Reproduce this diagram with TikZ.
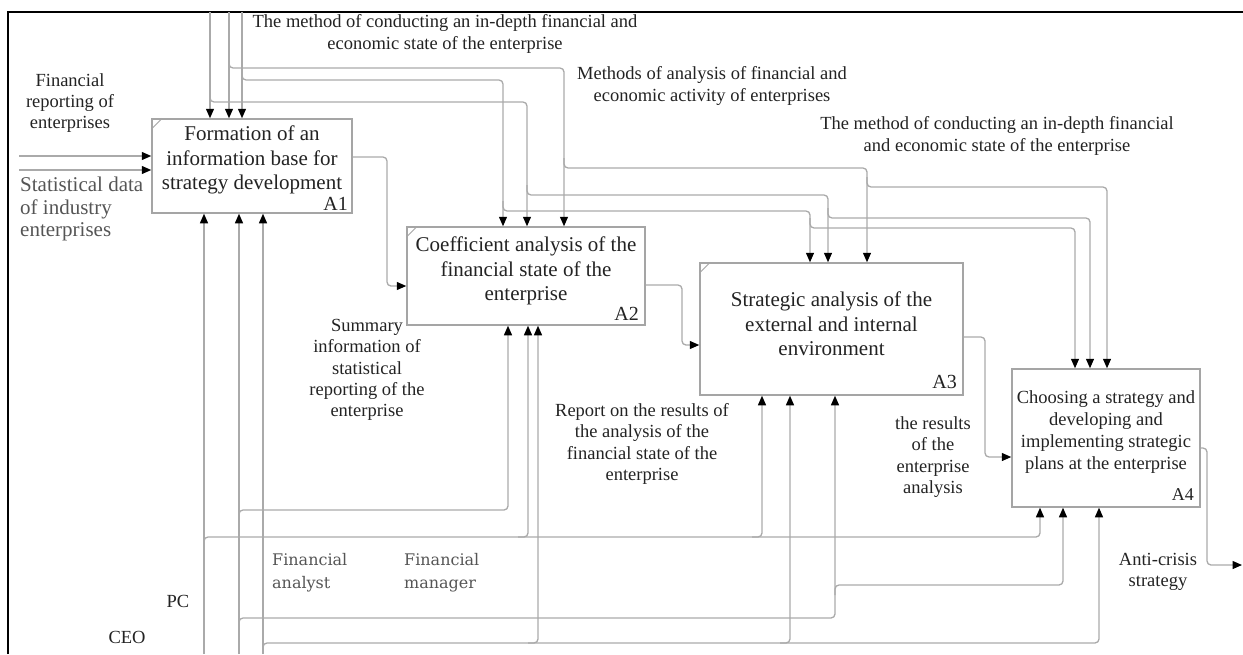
\documentclass[tikz,border=0pt]{standalone}
\usepackage{fontspec}
\setmainfont{Liberation Serif}
\newfontfamily\slabfont{DejaVu Serif}
\usetikzlibrary{arrows.meta}
\definecolor{lineg}{RGB}{170,170,170}
\definecolor{boxg}{RGB}{165,165,165}
\definecolor{txt}{RGB}{35,35,35}
\definecolor{txtl}{RGB}{85,85,85}
\begin{document}
\begin{tikzpicture}[x=1pt,y=-1pt,
  conn/.style={draw=lineg,line width=1.3pt,rounded corners=4pt},
  arr/.style={-{Triangle[length=9.5pt,width=8pt,color=black]}},
  procbox/.style={draw=boxg,line width=1.5pt,fill=white,inner sep=0pt},
  boxtext/.style={align=center,font=\fontsize{21}{24.5}\selectfont,text=txt,inner sep=0pt},
  boxtextsm/.style={align=center,font=\fontsize{18.5}{22}\selectfont,text=txt,inner sep=0pt},
  lab/.style={align=center,font=\fontsize{18.5}{21.3}\selectfont,text=txt,inner sep=0pt},
  num/.style={font=\fontsize{20}{22}\selectfont,text=txt,inner sep=0pt,anchor=base east},
  corner/.style={draw=boxg,line width=1pt},
]
\useasboundingbox (0,0) rectangle (1243,654);
% frame
\draw[line width=1.4pt] (8,654) -- (8,12) -- (1243,12);

% boxes
\node[procbox,minimum width=200pt,minimum height=94pt] (A1) at (252,166) {};
\node[procbox,minimum width=238pt,minimum height=98pt] (A2) at (526,276) {};
\node[procbox,minimum width=263pt,minimum height=132pt] (A3) at (831.5,329) {};
\node[procbox,minimum width=188pt,minimum height=138pt] (A4) at (1106,438) {};
\draw[corner] ([yshift=-11pt]A1.north west) -- ([xshift=11pt]A1.north west);
\draw[corner] ([yshift=-11pt]A2.north west) -- ([xshift=11pt]A2.north west);
\draw[corner] ([yshift=-11pt]A3.north west) -- ([xshift=11pt]A3.north west);

\node[boxtext] (A1t) at (252,160) {Formation of an\\information base for\\strategy development};
\node[boxtext] (A2t) at (526,271) {Coefficient analysis of the\\financial state of the\\enterprise};
\node[boxtext] (A3t) at (831.5,324) {Strategic analysis of the\\external and internal\\environment};
\node[boxtextsm] (A4t) at (1106,432) {Choosing a strategy and\\developing and\\implementing strategic\\plans at the enterprise};
\node[num] (A1n) at (348,210) {A1};
\node[num] (A2n) at (639,320) {A2};
\node[num] (A3n) at (957,388) {A3};
\node[num,font=\fontsize{18}{20}\selectfont] (A4n) at (1194,500) {A4};

% controls
\coordinate (c1) at (210,12);
\coordinate (c2) at (229,12);
\coordinate (c3) at (242,12);
\draw[conn,arr] (c1) -- (c1 |- A1.north);
\draw[conn,arr] (c2) -- (c2 |- A1.north);
\draw[conn,arr] (c3) -- (c3 |- A1.north);
\draw[conn,arr] (210,92) -- (210,102) -- (527,102) -- (527,0 |- A2.north);
\draw[conn,arr] (527,185) -- (527,195) -- (828,195) -- (828,0 |- A3.north);
\draw[conn,arr] (828,208) -- (828,218) -- (1090,218) -- (1090,0 |- A4.north);
\draw[conn,arr] (229,58) -- (229,68) -- (564,68) -- (564,0 |- A2.north);
\draw[conn,arr] (564,158) -- (564,168) -- (867,168) -- (867,0 |- A3.north);
\draw[conn,arr] (867,177) -- (867,187) -- (1107,187) -- (1107,0 |- A4.north);
\draw[conn,arr] (242,70) -- (242,80) -- (503,80) -- (503,0 |- A2.north);
\draw[conn,arr] (503,201) -- (503,211) -- (810,211) -- (810,0 |- A3.north);
\draw[conn,arr] (810,218) -- (810,228) -- (1075,228) -- (1075,0 |- A4.north);

% inputs
\coordinate (i1) at (19,156);
\coordinate (i2) at (19,170);
\draw[conn,arr] (i1) -- (i1 -| A1.west);
\draw[conn,arr] (i2) -- (i2 -| A1.west);

% outputs
\draw[conn,arr] (A1.east |- 0,157) -- (387,157) -- (387,286) -- (A2.west |- 0,286);
\draw[conn,arr] (A2.east |- 0,285) -- (682,285) -- (682,345) -- (A3.west |- 0,345);
\draw[conn,arr] (A3.east |- 0,337) -- (985,337) -- (985,457) -- (A4.west |- 0,457);
\coordinate (out) at (1242,565);
\draw[conn,arr] (A4.east |- 0,448) -- (1207,448) -- (1207,565) -- (out);

% mechanisms
\coordinate (m1) at (204,654);
\coordinate (m2) at (239,654);
\coordinate (m3) at (263,654);
\draw[conn,arr] (m1) -- (m1 |- A1.south);
\draw[conn,arr] (m2) -- (m2 |- A1.south);
\draw[conn,arr] (m3) -- (m3 |- A1.south);
\draw[conn,arr] (204,547) -- (204,537) -- (1040,537) -- (1040,0 |- A4.south);
\draw[conn,arr] (518,537) -- (528,537) -- (528,0 |- A2.south);
\draw[conn,arr] (752,537) -- (762,537) -- (762,0 |- A3.south);
\draw[conn,arr] (239,520) -- (239,510) -- (508,510) -- (508,0 |- A2.south);
\draw[conn,arr] (239,628) -- (239,618) -- (835,618) -- (835,0 |- A3.south);
\draw[conn,arr] (835,595) -- (835,585) -- (1063,585) -- (1063,0 |- A4.south);
\draw[conn,arr] (263,653) -- (263,643) -- (1099,643) -- (1099,0 |- A4.south);
\draw[conn,arr] (528,643) -- (538,643) -- (538,0 |- A2.south);
\draw[conn,arr] (780,643) -- (790,643) -- (790,0 |- A3.south);

% labels
\node[lab] (Lfin) at (70,103) {Financial\\reporting of\\enterprises};
\node[lab,align=left,anchor=west,text=txtl,font=\fontsize{21}{22.5}\selectfont] (Lstat) at (20,209) {Statistical data\\of industry\\enterprises};
\node[lab] (Lm1) at (445,34) {The method of conducting an in-depth financial and\\economic state of the enterprise};
\node[lab] (Lm2) at (712,86) {Methods of analysis of financial and\\economic activity of enterprises};
\node[lab] (Lm3) at (997,136) {The method of conducting an in-depth financial\\and economic state of the enterprise};
\node[lab] (Lsum) at (367,370) {Summary\\information of\\statistical\\reporting of the\\enterprise};
\node[lab] (Lrep) at (642,444) {Report on the results of\\the analysis of the\\financial state of the\\enterprise};
\node[lab] (Lres) at (933,457) {the results\\of the\\enterprise\\analysis};
\node[lab] (Lanti) at (1158,572) {Anti-crisis\\strategy};
\node[lab,align=left,anchor=west,text=txtl,font=\slabfont\fontsize{16}{23}\selectfont] (Lan) at (272,573) {Financial\\analyst};
\node[lab,align=left,anchor=west,text=txtl,font=\slabfont\fontsize{16}{23}\selectfont] (Lman) at (404,573) {Financial\\manager};
\node[lab,anchor=base] (Lpc) at (178,607) {PC};
\node[lab,anchor=base] (Lceo) at (127,643) {CEO};
\end{tikzpicture}
\end{document}
